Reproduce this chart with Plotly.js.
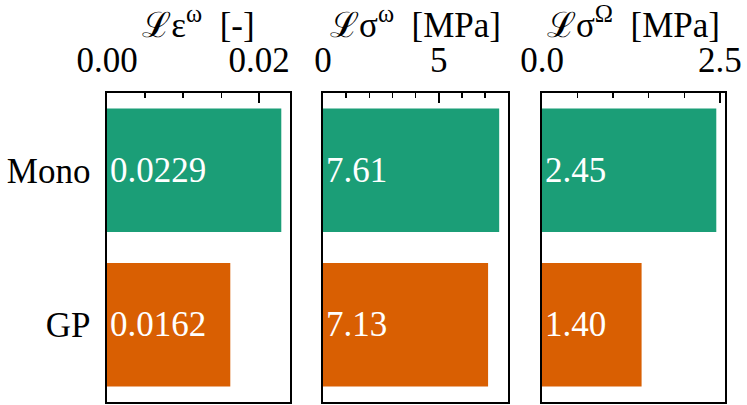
<!DOCTYPE html>
<html>
<head>
<meta charset="utf-8">
<script src="https://cdn.plot.ly/plotly-3.0.1.min.js"></script>
<style>html,body{margin:0;padding:0;background:#fff;}#chart{width:747px;height:405px;}</style>
</head>
<body>
<div id="chart"></div>
<script>
const categories = ['Mono', 'GP'];
const strainVals = [0.0229, 0.0162];
const stressVals = [7.61, 7.13];
const stressOmegaVals = [2.45, 1.40];
const barColors = ['#1b9e77', '#d95f02'];
const panelTitles = ['ℒε<sup>ω</sup>  [-]', 'ℒσ<sup>ω</sup>  [MPa]', 'ℒσ<sup>Ω</sup>  [MPa]'];
const labelFormats = ['%{x:.4f}', '%{x:.2f}', '%{x:.2f}'];

const FONT = '"Liberation Serif", "DejaVu Serif", serif';
const FS = 35;
const W = 747, H = 405;
const series = [strainVals, stressVals, stressOmegaVals];
const xDomainsPx = [[107, 290], [323, 508], [542, 725]];
const major = [{dtick: 0.02, fmt: '.2f'}, {dtick: 5, fmt: 'd'}, {dtick: 2.5, fmt: '.1f'}];
const minorD = [0.005, 1, 0.5];

const labelFont = {family: FONT, size: FS, color: '#ffffff'};
const traces = series.map((vals, i) => ({
  type: 'bar',
  orientation: 'h',
  x: vals,
  y: categories,
  xaxis: i === 0 ? 'x' : 'x' + (i + 1),
  yaxis: i === 0 ? 'y' : 'y' + (i + 1),
  width: 0.8,
  marker: {color: barColors, line: {width: 0}},
  texttemplate: labelFormats[i],
  textposition: 'inside',
  insidetextanchor: 'start',
  constraintext: 'none',
  textfont: labelFont,
  insidetextfont: labelFont,
  hoverinfo: 'none'
}));

const layout = {
  width: W, height: H,
  margin: {l: 0, r: 0, t: 0, b: 0},
  paper_bgcolor: '#fff', plot_bgcolor: '#fff',
  showlegend: false,
  font: {family: FONT, size: FS, color: '#000'}
};
const yDom = [(H - 402) / H, (H - 93) / H];
series.forEach((vals, i) => {
  const xk = i === 0 ? 'xaxis' : 'xaxis' + (i + 1);
  const yk = i === 0 ? 'yaxis' : 'yaxis' + (i + 1);
  const maxV = Math.max(...vals);
  layout[xk] = {
    domain: [xDomainsPx[i][0] / W, xDomainsPx[i][1] / W],
    anchor: i === 0 ? 'y' : 'y' + (i + 1),
    side: 'top',
    range: [0, maxV * 1.05],
    dtick: major[i].dtick, tick0: 0, tickformat: major[i].fmt,
    ticks: 'inside', ticklen: 10, tickwidth: 1.5, tickcolor: '#000',
    minor: {dtick: minorD[i], tick0: 0, ticks: 'inside', ticklen: 5, tickwidth: 1.3, tickcolor: '#000'},
    showline: true, mirror: true, linecolor: '#000', linewidth: 1.6,
    showgrid: false, zeroline: false,
    ticklabelstandoff: 5,
    tickfont: {family: FONT, size: FS, color: '#000'},
    title: {text: panelTitles[i], font: {family: FONT, size: FS, color: '#000'}}
  };
  layout[yk] = {
    domain: yDom,
    anchor: i === 0 ? 'x' : 'x' + (i + 1),
    type: 'category',
    categoryorder: 'array', categoryarray: ['GP', 'Mono'],
    range: [-0.5, 1.5],
    showticklabels: i === 0,
    ticks: '',
    ticklabelstandoff: 8,
    showline: true, mirror: true, linecolor: '#000', linewidth: 1.6,
    showgrid: false, zeroline: false,
    tickfont: {family: FONT, size: FS, color: '#000'}
  };
});

Plotly.newPlot('chart', traces, layout, {staticPlot: true, displayModeBar: false});
</script>
</body>
</html>
